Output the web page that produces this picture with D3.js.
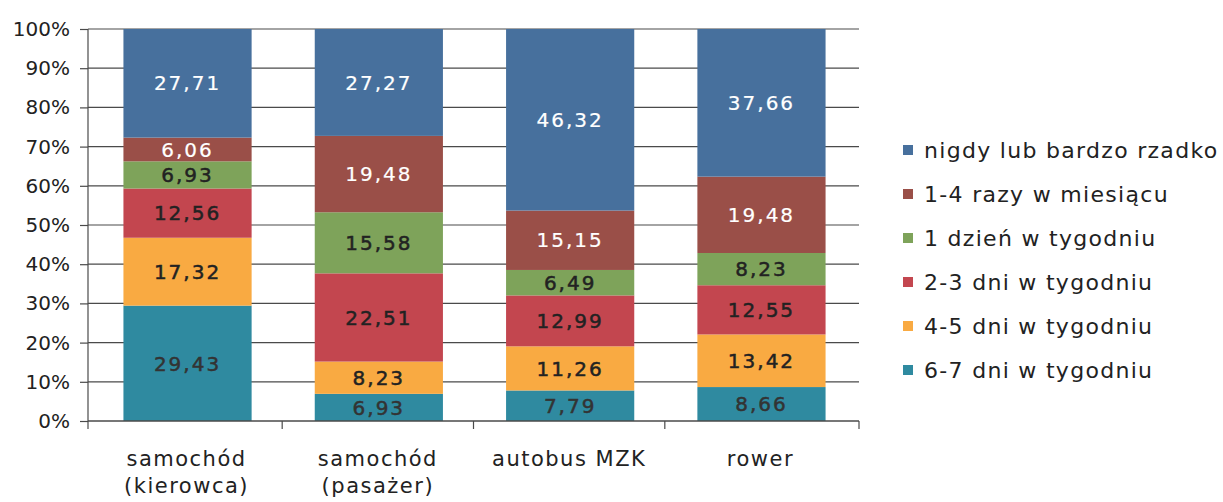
<!DOCTYPE html>
<html><head><meta charset="utf-8">
<script src="https://cdn.jsdelivr.net/npm/d3@7"></script>
<style>
body{margin:0;background:#fff;}
svg{display:block;}
text{font-family:"DejaVu Sans",sans-serif;}
</style></head>
<body>
<svg id="c" width="1223" height="502"></svg>
<script>
const categories = [["samochód","(kierowca)"],["samochód","(pasażer)"],["autobus MZK"],["rower"]];
const seriesNames = ["6-7 dni w tygodniu","4-5 dni w tygodniu","2-3 dni w tygodniu","1 dzień w tygodniu","1-4 razy w miesiącu","nigdy lub bardzo rzadko"];
const s67 = [29.43, 6.93, 7.79, 8.66];
const s45 = [17.32, 8.23, 11.26, 13.42];
const s23 = [12.56, 22.51, 12.99, 12.55];
const s1d = [6.93, 15.58, 6.49, 8.23];
const s14 = [6.06, 19.48, 15.15, 19.48];
const sNigdy = [27.71, 27.27, 46.32, 37.66];
const yTicks = [0,10,20,30,40,50,60,70,80,90,100];
const colors = ["#2f8aa0","#f9aa42","#c3464f","#7ea35a","#9a4f48","#47709d"];
const labelColors = ["#333","#222","#222","#222","#fff","#fff"];

const seriesVals = [s67,s45,s23,s1d,s14,sNigdy];
const rows = categories.map((c,i)=>{const o={cat:i}; seriesNames.forEach((n,j)=>o[n]=seriesVals[j][i]); return o;});
const stack = d3.stack().keys(seriesNames)(rows);

const svg = d3.select("#c");
const m = {l:88, r:1223-859, t:29, b:502-421};
const W = 859-88, H = 421-29;
const g = svg.append("g").attr("transform",`translate(${m.l},${m.t})`);
const x = d3.scaleBand().domain(d3.range(categories.length)).range([0,W]).paddingInner(0.33).paddingOuter(0.18);
const y = d3.scaleLinear().domain([0,100]).range([H,0]);

// gridlines
g.append("g").selectAll("line").data(yTicks.filter(t=>t>0)).join("line")
  .attr("x1",0).attr("x2",W).attr("y1",d=>y(d)).attr("y2",d=>y(d))
  .attr("stroke","#4a4a4a").attr("stroke-width",1.2);

// bars
const layers = g.append("g").selectAll("g").data(stack).join("g").attr("fill",(d,i)=>colors[i]);
layers.selectAll("rect").data(d=>d).join("rect")
  .attr("x",(d,i)=>x(i)+1).attr("width",x.bandwidth())
  .attr("y",d=>y(Math.min(d[1],100))).attr("height",d=>y(d[0])-y(Math.min(d[1],100)));

// labels
const lab = g.append("g").selectAll("g").data(stack).join("g")
  .attr("fill",(d,i)=>labelColors[i]).attr("stroke",(d,i)=>labelColors[i]).attr("stroke-width",(d,i)=>i<4?0.5:0.2);
lab.selectAll("text").data(d=>d).join("text")
  .attr("x",(d,i)=>x(i)+1+x.bandwidth()/2)
  .attr("y",d=>(y(d[0])+y(Math.min(d[1],100)))/2)
  .attr("dy","0.36em").attr("text-anchor","middle")
  .attr("font-size",20).attr("letter-spacing",2)
  .text(d=>d3.format(".2f")(d[1]-d[0]).replace(".",","));

// y axis
const ya = g.append("g").call(d3.axisLeft(y).tickValues(yTicks).tickFormat(d=>d+"%").tickSize(8).tickPadding(10));
ya.select(".domain").attr("stroke","#4a4a4a").attr("stroke-width",1.2).attr("d",`M0,0V${H}`);
ya.selectAll(".tick line").attr("stroke","#4a4a4a").attr("stroke-width",1.2);
ya.selectAll("text").attr("font-size",20).attr("fill","#222").attr("font-family","DejaVu Sans");

// x axis
const xa = g.append("g").attr("transform",`translate(0,${H})`);
xa.append("line").attr("x1",0).attr("x2",W).attr("stroke","#4a4a4a").attr("stroke-width",1.5);
const bounds = d3.range(categories.length+1).map(i=> i===0?0 : (i===categories.length?W : x(i)-x.step()*x.paddingInner()/2));
xa.selectAll("line.t").data(bounds).join("line").attr("class","t")
  .attr("x1",d=>d).attr("x2",d=>d).attr("y1",0).attr("y2",8).attr("stroke","#4a4a4a").attr("stroke-width",1.2);
xa.selectAll("text.c").data(categories).join("text").attr("class","c")
  .attr("text-anchor","middle").attr("font-size",21).attr("letter-spacing",1.5).attr("fill","#222")
  .attr("transform",(d,i)=>`translate(${x(i)+x.bandwidth()/2},0)`)
  .selectAll("tspan").data(d=>d).join("tspan")
  .attr("x",0).attr("y",(d,j)=>45+j*27).text(d=>d);

// legend
const leg = svg.append("g").attr("transform","translate(903,150)");
const legOrder = seriesNames.slice().reverse();
const legItems = leg.selectAll("g").data(legOrder).join("g").attr("transform",(d,i)=>`translate(0,${i*44})`);
legItems.append("rect").attr("x",0).attr("y",-5).attr("width",10).attr("height",10)
  .attr("fill",d=>colors[seriesNames.indexOf(d)]);
legItems.append("text").attr("x",21).attr("dy","0.36em").attr("font-size",22).attr("letter-spacing",1.3).attr("fill","#222").text(d=>d);
</script>
</body></html>
